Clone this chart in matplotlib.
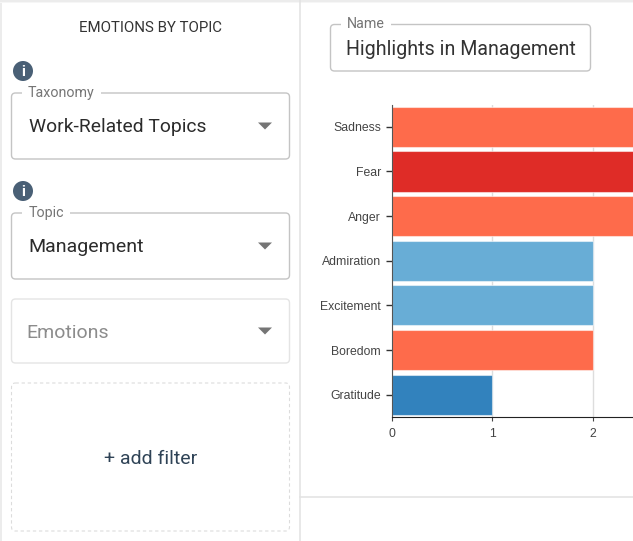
import matplotlib
matplotlib.use("Agg")
import matplotlib.pyplot as plt
from matplotlib.patches import Circle, FancyBboxPatch, Polygon, Rectangle

plt.rcParams["font.family"] = ["Roboto", "DejaVu Sans"]

EMOTIONS = ["Sadness", "Fear", "Anger", "Admiration", "Excitement", "Boredom", "Gratitude"]
COUNTS = [3, 3, 3, 2, 2, 2, 1]
BAR_COLORS = ["#fe6b4b", "#df2c27", "#fe6b4b", "#68add6", "#68add6", "#fe6b4b", "#3282bd"]
X_TICKS = [0, 1, 2]
W, H = 633, 541
DARK = "#333333"
LABEL = "#757575"


def box(ax, x0, y0, x1, y1, color="#c4c4c4", ls="-", lw=1.0):
    ax.add_patch(FancyBboxPatch((x0, y0), x1 - x0, y1 - y0, boxstyle="round,pad=0,rounding_size=4",
                                fc="white", ec=color, lw=lw, ls=ls))


def legend_label(ax, text, x0, x1, y):
    # notch in the outline behind the floating label
    ax.add_patch(Rectangle((x0, y - 2), x1 - x0, 4, fc="white", ec="none", zorder=3))
    ax.text((x0 + x1) / 2, y, text, color=LABEL, fontsize=10.3, ha="center", va="center", zorder=4)


def arrow(ax, x, y):
    ax.add_patch(Polygon([(x - 7, y - 3.5), (x + 7, y - 3.5), (x, y + 3.5)], fc="#757575", ec="none"))


def info(ax, x, y):
    ax.add_patch(Circle((x, y), 10, fc="#4a6076", ec="none"))
    ax.text(x, y + 0.5, "i", color="white", fontsize=11, fontweight="bold", ha="center", va="center")


fig = plt.figure(figsize=(W / 100, H / 100), dpi=100, facecolor="white")

# ---- page furniture, in pixel coordinates ----
ui = fig.add_axes([0, 0, 1, 1], zorder=0)
ui.set_xlim(0, W)
ui.set_ylim(H, 0)
ui.axis("off")

ui.add_patch(Rectangle((0, 0), 2, H, fc="#ececec", ec="none"))
ui.add_patch(Rectangle((0, 0), W, 1.5, fc="#ececec", ec="none"))
ui.add_patch(Rectangle((0, 1.5), W, 1.5, fc="#f6f6f6", ec="none"))
ui.plot([300, 300], [0, H], color="#e2e2e2", lw=1.1)
ui.plot([300, W], [497, 497], color="#e2e2e2", lw=1.1)

ui.text(150.5, 27.5, "EMOTIONS BY TOPIC", color=DARK, fontsize=10.8, ha="center", va="center")

info(ui, 23, 71)
box(ui, 11.5, 93, 289.5, 159)
legend_label(ui, "Taxonomy", 22, 101, 93)
ui.text(29, 127.5, "Work-Related Topics", color="#2b2b2b", fontsize=13.9, ha="left", va="center")
arrow(ui, 265, 126)

info(ui, 23, 191)
box(ui, 11.5, 213, 289.5, 279)
legend_label(ui, "Topic", 22, 70, 213)
ui.text(28.5, 247.5, "Management", color="#2b2b2b", fontsize=14, ha="left", va="center")
arrow(ui, 265, 246)

box(ui, 11.5, 299, 289.5, 363, color="#e4e4e4")
ui.text(26.5, 332.5, "Emotions", color="#8c8c8c", fontsize=14, ha="left", va="center")
arrow(ui, 265, 331)

box(ui, 11.5, 383, 289.5, 531, color="#dcdcdc", ls=(0, (3, 2.5)), lw=0.8)
ui.text(150.5, 458.5, "+ add filter", color="#2f4356", fontsize=14, ha="center", va="center")

box(ui, 330.5, 24.5, 590.5, 71)
legend_label(ui, "Name", 341, 391, 24.5)
ui.text(346.5, 49.5, "Highlights in Management", color=DARK, fontsize=14.15, ha="left", va="center")

# ---- bar chart ----
left, right, top, bottom = 391.5, W, 104.5, 417
ax = fig.add_axes([left / W, 1 - bottom / H, (right - left) / W, (bottom - top) / H], zorder=1)
ax.patch.set_alpha(0)
ax.set_xlim(0, (right - left) / 100.6)
ax.set_ylim(len(EMOTIONS) - 0.5, -0.5)

ax.barh(EMOTIONS, COUNTS, height=0.9, color=BAR_COLORS, edgecolor="#ffffff80", linewidth=0.8, zorder=2)
ax.set_xticks(X_TICKS)
ax.grid(axis="x", color="#dddddd", lw=1, zorder=1)
ax.set_axisbelow(True)

for side in ("top", "right"):
    ax.spines[side].set_visible(False)
ax.spines["left"].set_color("#555555")
ax.spines["left"].set_zorder(3)
ax.spines["bottom"].set_color("#222222")
ax.spines["bottom"].set_zorder(3)

ax.tick_params(axis="y", length=4.5, width=1, color="#333333", pad=3, labelsize=8.8, labelcolor="#444444",
               labelfontfamily="Liberation Sans")
ax.tick_params(axis="x", length=3, width=0.8, color="#444444", pad=5, labelsize=8.8, labelcolor="#444444",
               labelfontfamily="Liberation Sans")

fig.savefig("out.png", dpi=100)
